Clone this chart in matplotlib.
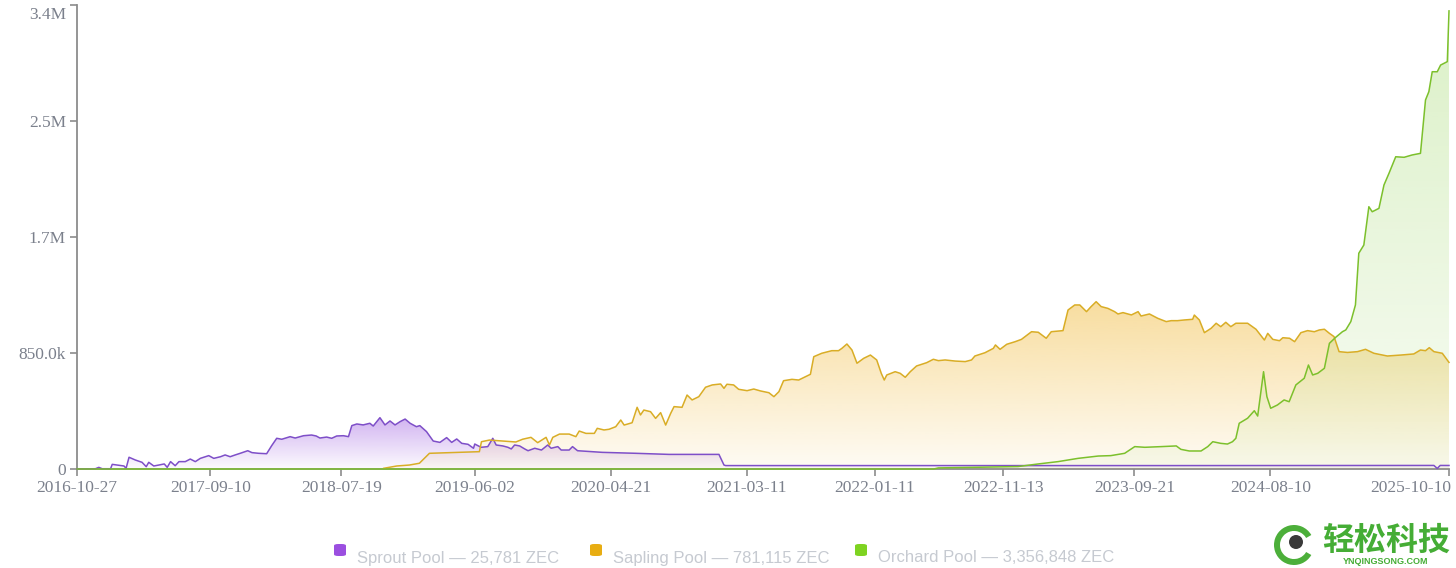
import matplotlib
matplotlib.use("Agg")
import matplotlib.pyplot as plt
import matplotlib.dates as mdates
import matplotlib.transforms as mtransforms
import numpy as np
import pandas as pd
from matplotlib.patches import Polygon, FancyBboxPatch, Circle, Wedge
from matplotlib.colors import to_rgb

# ---------------- data (values in thousands of ZEC) ----------------
sprout_dates = [
    "2016-10-27", "2016-12-10", "2016-12-18", "2016-12-26", "2017-01-15", "2017-01-19",
    "2017-02-16", "2017-02-21", "2017-02-28", "2017-03-15", "2017-03-31", "2017-04-10",
    "2017-04-16", "2017-04-28", "2017-05-10", "2017-05-23", "2017-05-30", "2017-06-07",
    "2017-06-18", "2017-06-27", "2017-07-12", "2017-07-24", "2017-08-05", "2017-08-17",
    "2017-09-06", "2017-09-18", "2017-10-04", "2017-10-15", "2017-10-27", "2017-11-08",
    "2017-11-20", "2017-12-08", "2017-12-18", "2018-01-03", "2018-01-22", "2018-02-03",
    "2018-02-15", "2018-02-27", "2018-03-19", "2018-03-31", "2018-04-20", "2018-05-09",
    "2018-05-20", "2018-05-29", "2018-06-14", "2018-06-26", "2018-07-08", "2018-07-24",
    "2018-08-05", "2018-08-13", "2018-08-25", "2018-09-09", "2018-09-25", "2018-10-03",
    "2018-10-19", "2018-10-31", "2018-11-12", "2018-11-24", "2018-12-06", "2018-12-18",
    "2018-12-30", "2019-01-14", "2019-01-22", "2019-02-07", "2019-02-23", "2019-03-11",
    "2019-03-27", "2019-04-08", "2019-04-20", "2019-05-02", "2019-05-17", "2019-05-30",
    "2019-06-02", "2019-06-17", "2019-07-03", "2019-07-15", "2019-07-23", "2019-08-08",
    "2019-08-20", "2019-08-28", "2019-09-05", "2019-09-17", "2019-09-29", "2019-10-07",
    "2019-10-23", "2019-11-08", "2019-11-23", "2019-12-01", "2019-12-17", "2019-12-25",
    "2020-01-13", "2020-01-21", "2020-02-02", "2020-04-01", "2020-06-20", "2020-09-07",
    "2021-01-04", "2021-01-16", "2021-01-20", "2022-06-01", "2024-01-01", "2025-09-04",
    "2025-09-12", "2025-09-19", "2025-10-10",
]
sprout_k = [
    0, 2, 12, 2, 2, 34,
    22, 5, 86, 66, 49, 17,
    49, 22, 29, 37, 12, 54,
    24, 54, 54, 73, 54, 78,
    98, 78, 90, 103, 90, 103,
    115, 134, 120, 115, 112, 171,
    225, 218, 237, 227, 244, 249,
    242, 227, 234, 225, 242, 244,
    237, 318, 330, 323, 335, 315,
    376, 323, 352, 323, 347, 366,
    335, 310, 318, 274, 205, 195,
    230, 195, 220, 188, 181, 152,
    183, 159, 164, 225, 176, 169,
    159, 147, 176, 169, 147, 134,
    152, 139, 176, 152, 164, 139,
    139, 164, 134, 122, 115, 107,
    107, 29, 25, 25, 25, 26,
    4, 26, 25.781,
]

sapling_dates = [
    "2018-10-28", "2018-11-28", "2018-12-28", "2019-01-21", "2019-02-14", "2019-04-26",
    "2019-06-13", "2019-06-18", "2019-07-07", "2019-08-08", "2019-09-08", "2019-09-24",
    "2019-10-14", "2019-10-30", "2019-11-19", "2019-11-27", "2019-12-05", "2019-12-21",
    "2020-01-13", "2020-01-29", "2020-02-06", "2020-02-22", "2020-03-13", "2020-03-20",
    "2020-04-05", "2020-04-17", "2020-05-03", "2020-05-15", "2020-05-23", "2020-06-11",
    "2020-06-23", "2020-07-01", "2020-07-09", "2020-07-25", "2020-08-06", "2020-08-18",
    "2020-08-30", "2020-09-11", "2020-09-19", "2020-10-08", "2020-10-20", "2020-11-01",
    "2020-11-17", "2020-12-03", "2020-12-19", "2021-01-08", "2021-01-16", "2021-01-23",
    "2021-02-08", "2021-02-20", "2021-03-12", "2021-03-28", "2021-04-13", "2021-05-03",
    "2021-05-15", "2021-05-27", "2021-06-07", "2021-06-27", "2021-07-13", "2021-07-29",
    "2021-08-10", "2021-08-18", "2021-09-06", "2021-09-30", "2021-10-16", "2021-10-24",
    "2021-11-05", "2021-11-17", "2021-11-29", "2021-12-15", "2021-12-31", "2022-01-15",
    "2022-01-26", "2022-02-02", "2022-02-08", "2022-02-28", "2022-03-12", "2022-03-24",
    "2022-04-05", "2022-04-20", "2022-05-14", "2022-05-30", "2022-06-11", "2022-06-27",
    "2022-07-21", "2022-08-14", "2022-08-29", "2022-09-06", "2022-09-30", "2022-10-20",
    "2022-10-25", "2022-11-05", "2022-11-21", "2022-12-11", "2022-12-26", "2023-01-19",
    "2023-02-04", "2023-02-23", "2023-03-07", "2023-04-04", "2023-04-16", "2023-05-02",
    "2023-05-14", "2023-05-30", "2023-06-10", "2023-06-22", "2023-07-04", "2023-07-20",
    "2023-08-05", "2023-08-13", "2023-08-25", "2023-09-14", "2023-09-30", "2023-10-07",
    "2023-10-27", "2023-11-16", "2023-12-06", "2023-12-18", "2024-01-02", "2024-01-18",
    "2024-02-07", "2024-02-11", "2024-02-23", "2024-03-06", "2024-03-22", "2024-04-03",
    "2024-04-14", "2024-04-26", "2024-05-08", "2024-05-20", "2024-06-17", "2024-07-07",
    "2024-07-27", "2024-08-04", "2024-08-16", "2024-09-01", "2024-09-09", "2024-09-25",
    "2024-10-07", "2024-10-22", "2024-11-07", "2024-11-23", "2024-12-05", "2024-12-17",
    "2024-12-29", "2025-01-09", "2025-01-21", "2025-02-10", "2025-03-06", "2025-03-25",
    "2025-04-14", "2025-05-16", "2025-06-17", "2025-07-18", "2025-08-03", "2025-08-15",
    "2025-08-24", "2025-09-04", "2025-09-24", "2025-10-10",
]
sapling_k = [
    5, 22, 29, 42, 115, 122,
    127, 200, 212, 205, 198, 218,
    232, 193, 232, 176, 232, 256,
    256, 237, 278, 261, 261, 298,
    286, 291, 310, 359, 322, 339,
    452, 396, 432, 420, 371, 413,
    322, 408, 457, 452, 542, 506,
    530, 599, 616, 623, 591, 621,
    616, 584, 574, 586, 572, 559,
    530, 567, 647, 657, 652, 676,
    694, 823, 848, 867, 867, 884,
    916, 872, 775, 811, 835, 799,
    700, 652, 689, 713, 701, 672,
    713, 755, 779, 804, 794, 799,
    791, 787, 799, 828, 852, 884,
    909, 877, 914, 933, 950, 1006,
    1002, 958, 1006, 1014, 1165, 1202,
    1202, 1153, 1190, 1226, 1190, 1177,
    1153, 1136, 1146, 1129, 1153, 1121,
    1136, 1104, 1080, 1087, 1087, 1092,
    1097, 1128, 1092, 999, 1031, 1068,
    1043, 1075, 1043, 1068, 1068, 1024,
    945, 994, 950, 940, 962, 958,
    933, 999, 1014, 1006, 1019, 1024,
    994, 970, 860, 854, 860, 877,
    848, 828, 835, 843, 872, 867,
    889, 860, 848, 781.115,
]

orchard_dates = [
    "2016-10-27", "2022-05-31", "2022-06-11", "2022-08-31", "2022-12-18", "2023-02-04",
    "2023-03-23", "2023-05-10", "2023-06-27", "2023-07-27", "2023-08-29", "2023-09-22",
    "2023-10-16", "2023-11-24", "2023-12-30", "2024-01-10", "2024-01-30", "2024-02-27",
    "2024-03-14", "2024-03-26", "2024-04-14", "2024-04-30", "2024-05-12", "2024-05-20",
    "2024-05-28", "2024-06-17", "2024-07-03", "2024-07-11", "2024-07-25", "2024-08-02",
    "2024-08-11", "2024-08-27", "2024-09-12", "2024-09-24", "2024-10-10", "2024-10-30",
    "2024-11-09", "2024-11-19", "2024-12-01", "2024-12-17", "2024-12-29", "2025-01-13",
    "2025-01-29", "2025-02-06", "2025-02-18", "2025-03-01", "2025-03-09", "2025-03-21",
    "2025-04-02", "2025-04-10", "2025-04-26", "2025-05-08", "2025-05-20", "2025-06-05",
    "2025-06-25", "2025-07-14", "2025-08-03", "2025-08-15", "2025-08-23", "2025-08-31",
    "2025-09-12", "2025-09-20", "2025-10-06", "2025-10-10",
]
orchard_k = [
    0, 0, 8, 12, 18, 37,
    54, 78, 95, 98, 115, 164,
    159, 164, 169, 144, 132, 132,
    164, 200, 188, 183, 200, 225,
    335, 372, 427, 388, 713, 530,
    445, 469, 506, 493, 616, 665,
    762, 689, 701, 738, 921, 965,
    1006, 1019, 1080, 1202, 1581, 1641,
    1922, 1885, 1910, 2081, 2167, 2288,
    2284, 2301, 2313, 2704, 2765, 2911,
    2911, 2960, 2985, 3356.848,
]

pool_names = ["Sprout Pool", "Sapling Pool", "Orchard Pool"]
pool_totals = [25781, 781115, 3356848]

y_ticks = [0, 850000, 1700000, 2550000, 3400000]
y_labels = ["0", "850.0k", "1.7M", "2.5M", "3.4M"]
x_tick_dates = ["2016-10-27", "2017-09-10", "2018-07-19", "2019-06-02", "2020-04-21",
                "2021-03-11", "2022-01-11", "2022-11-13", "2023-09-21", "2024-08-10",
                "2025-10-10"]

# ---------------- styles ----------------
line_colors = ["#7e4fc8", "#d9ad26", "#7cc02c"]
fill_colors = ["#9b59e0", "#f0b429", "#8fd14f"]
fill_alpha_top = [0.46, 0.45, 0.32]
fill_alpha_bot = [0.03, 0.05, 0.06]
legend_colors = ["#9b4fe0", "#e8ad12", "#7ed321"]

W, H = 1456, 568
fig = plt.figure(figsize=(W / 100, H / 100), dpi=100)
fig.patch.set_facecolor("white")
ax = fig.add_axes([77 / W, 99 / H, (1449 - 77) / W, 464 / H])
ax.set_facecolor("white")


def gradient_fill(ax, xn, y, color, a_top, a_bot, z):
    ymax = max(y)
    rgb = to_rgb(color)
    img = np.zeros((256, 1, 4))
    img[:, :, :3] = rgb
    img[:, 0, 3] = np.linspace(a_bot, a_top, 256)
    im = ax.imshow(img, aspect="auto", origin="lower",
                   extent=[xn.min(), xn.max(), 0, ymax],
                   interpolation="bilinear", zorder=z)
    verts = [(xn[0], 0)] + list(zip(xn, y)) + [(xn[-1], 0)]
    poly = Polygon(verts, closed=True, facecolor="none", edgecolor="none")
    ax.add_patch(poly)
    im.set_clip_path(poly)


series = [
    (sprout_dates, sprout_k),
    (sapling_dates, sapling_k),
    (orchard_dates, orchard_k),
]
for i, (d, v) in enumerate(series):
    xn = mdates.date2num(pd.to_datetime(d))
    yv = np.array(v) * 1000.0
    gradient_fill(ax, xn, yv, fill_colors[i], fill_alpha_top[i], fill_alpha_bot[i], 1 + 2 * i)
    ax.plot(xn, yv, color=line_colors[i], lw=1.1, zorder=2 + 2 * i + 5,
            clip_on=False, solid_joinstyle="round")

x0 = mdates.date2num(pd.Timestamp("2016-10-27"))
x1 = mdates.date2num(pd.Timestamp("2025-10-10"))
ax.set_xlim(x0, x1)
ax.set_ylim(0, 3400000)

ax.set_yticks(y_ticks)
ax.set_yticklabels(y_labels)
xt = mdates.date2num(pd.to_datetime(x_tick_dates))
ax.set_xticks(xt)
ax.set_xticklabels(x_tick_dates)

axis_col = "#8c8c8c"
for s in ["top", "right"]:
    ax.spines[s].set_visible(False)
for s in ["left", "bottom"]:
    ax.spines[s].set_color(axis_col)
    ax.spines[s].set_linewidth(1.3)
    ax.spines[s].set_zorder(0.5)
ax.tick_params(axis="both", direction="out", length=5, width=1.2, color=axis_col,
               labelcolor="#7b808c", labelsize=12.5, pad=3)
for lab in ax.get_xticklabels() + ax.get_yticklabels():
    lab.set_fontfamily("Liberation Serif")

# keep edge labels inside the canvas, as in the reference
xl = ax.get_xticklabels()
xl[-1].set_horizontalalignment("right")
xl[-1].set_transform(xl[-1].get_transform() +
                     mtransforms.ScaledTranslation(2 / 100, 0, fig.dpi_scale_trans))
yl = ax.get_yticklabels()
yl[-1].set_verticalalignment("top")
yl[-1].set_transform(yl[-1].get_transform() +
                     mtransforms.ScaledTranslation(0, -2 / 100, fig.dpi_scale_trans))

# ---------------- legend (manual, bottom center) ----------------
sq_x = [334, 590, 855]
tx_x = [357, 613, 878]
for i in range(3):
    fig.patches.append(FancyBboxPatch(
        (sq_x[i] / W, 1 - 556 / H), 12 / W, 12 / H,
        boxstyle="round,pad=0,rounding_size=0.003",
        transform=fig.transFigure, facecolor=legend_colors[i], edgecolor="none"))
    fig.text(tx_x[i] / W, 1 - 558 / H,
             f"{pool_names[i]} \u2014 {pool_totals[i]:,} ZEC",
             ha="left", va="center", fontsize=12, color="#c6cad1",
             family=["Liberation Sans", "DejaVu Sans"])

# ---------------- watermark ----------------
px = mtransforms.IdentityTransform()
fig.patches.append(Wedge((1294, H - 545), 20, 30, 330, width=6,
                         transform=px, facecolor="#4caf3a", edgecolor="none"))
fig.patches.append(Circle((1296, H - 542), 7, transform=px,
                          facecolor="#3a3a3a", edgecolor="none"))
fig.text(1322 / W, 1 - 541 / H, "轻松科技", ha="left", va="center", fontsize=23,
         color="#45ad35", fontweight="bold",
         family=["Noto Sans CJK SC", "DejaVu Sans"])
fig.text(1386 / W, 1 - 562 / H, "YNQINGSONG.COM", ha="center", va="center", fontsize=6.5,
         color="#45ad35", fontweight="bold", family=["Liberation Sans", "DejaVu Sans"])

fig.savefig("out.png", dpi=100)
